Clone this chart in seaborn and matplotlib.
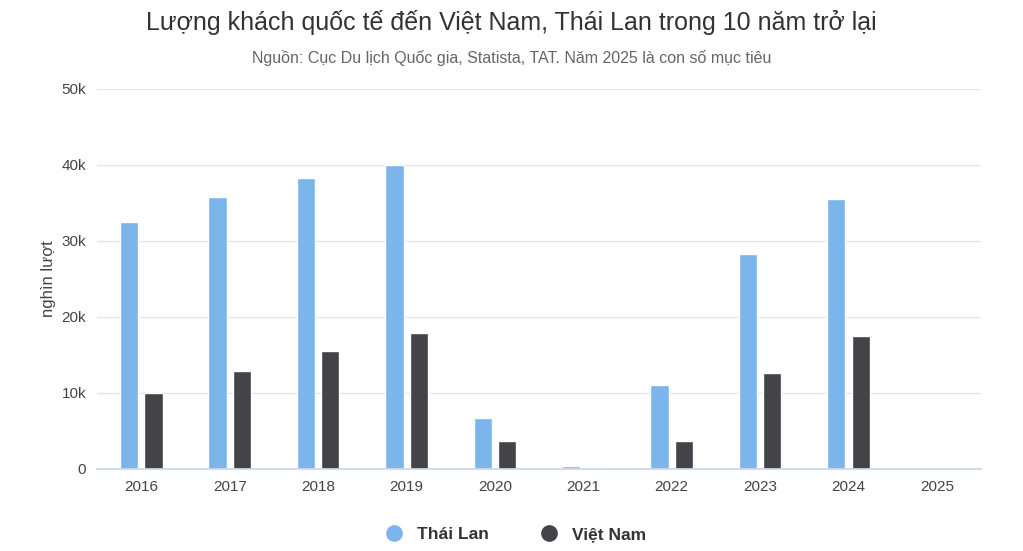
import matplotlib
matplotlib.use("Agg")
import matplotlib.pyplot as plt
import seaborn as sns
import pandas as pd
from matplotlib.lines import Line2D

years = ["2016","2017","2018","2019","2020","2021","2022","2023","2024","2025"]
thai = [32.5,35.7,38.3,40.0,6.7,0.4,11.0,28.2,35.5,0]
viet = [10.0,12.9,15.5,17.9,3.7,0.1,3.7,12.6,17.5,0]
series = ["Thái Lan","Việt Nam"]
colors = ["#7cb5ec","#434348"]

df = pd.DataFrame({"year": years*2, "val": thai+viet,
                   "series": [series[0]]*10 + [series[1]]*10})

sns.set_theme(style="white")
plt.rcParams['font.family'] = ['Liberation Sans', 'DejaVu Sans']

fig = plt.figure(figsize=(10.23,5.51), dpi=100)
ax = fig.add_axes([0.095, 0.149, 0.864, 0.69])
sns.barplot(data=df, x="year", y="val", hue="series", palette=colors,
            width=0.55, gap=0.25, ax=ax, legend=False, saturation=1)
ax.set_ylim(0,50)
ax.set_xlim(-0.5,9.5)
ax.set_yticks([0,10,20,30,40,50])
ax.set_yticklabels(["0","10k","20k","30k","40k","50k"])
ax.grid(axis="y", color="#e6e6e6", lw=1)
ax.set_axisbelow(True)
for s in ["top","right","left"]:
    ax.spines[s].set_visible(False)
ax.spines["bottom"].set_color("#ccd6eb")
ax.tick_params(axis="both", length=0, labelsize=11, colors="#444444", pad=8)
ax.set_xlabel("")
ax.set_ylabel("nghìn lượt", fontsize=12, color="#444444")
fig.text(0.5, 0.945, "Lượng khách quốc tế đến Việt Nam, Thái Lan trong 10 năm trở lại",
         ha="center", fontsize=18, color="#333333")
fig.text(0.5, 0.885, "Nguồn: Cục Du lịch Quốc gia, Statista, TAT. Năm 2025 là con số mục tiêu",
         ha="center", fontsize=11.5, color="#666666")
handles = [Line2D([],[],marker="o",ls="",markersize=11,color=c) for c in colors]
leg = fig.legend(handles, series, loc="center", bbox_to_anchor=(0.5,0.03), ncol=2,
                 frameon=False, fontsize=12.5, handletextpad=0.3, columnspacing=2.5)
for t in leg.get_texts():
    t.set_fontweight("bold"); t.set_color("#333333")
fig.savefig("out.png", dpi=100)
